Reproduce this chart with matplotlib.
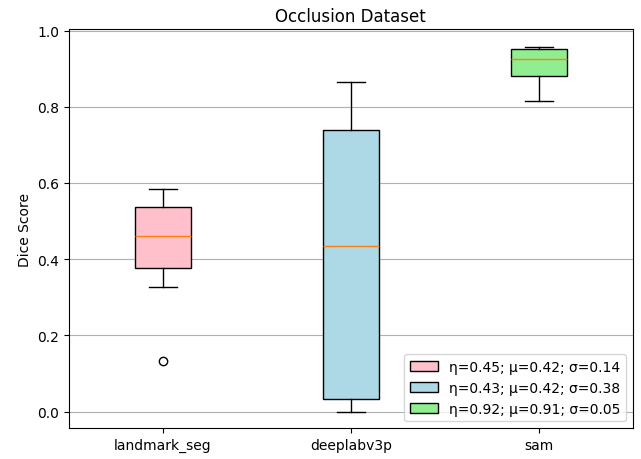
import matplotlib.pyplot as plt

# box statistics
models = ["landmark_seg", "deeplabv3p", "sam"]
med = [0.462, 0.435, 0.924]
q1 = [0.377, 0.033, 0.880]
q3 = [0.538, 0.738, 0.951]
whislo = [0.326, 0.0, 0.815]
whishi = [0.583, 0.866, 0.957]
fliers = [[0.132], [], []]
colors = ["pink", "lightblue", "lightgreen"]
labels = [
    "η=0.45; μ=0.42; σ=0.14",
    "η=0.43; μ=0.42; σ=0.38",
    "η=0.92; μ=0.91; σ=0.05",
]

stats = []
for i, name in enumerate(models):
    stats.append({
        "label": name, "med": med[i], "q1": q1[i], "q3": q3[i],
        "whislo": whislo[i], "whishi": whishi[i], "fliers": fliers[i],
    })

fig = plt.figure(figsize=(6.41, 4.6), dpi=100)
ax = fig.add_axes([0.1076, 0.0667, 0.8794, 0.8681])

bp = ax.bxp(stats, patch_artist=True, widths=0.3)
for box, c in zip(bp["boxes"], colors):
    box.set_facecolor(c)

ax.set_ylim(-0.044, 1.004)
ax.set_title("Occlusion Dataset")
ax.set_ylabel("Dice Score")
ax.yaxis.grid(True)
ax.legend(bp["boxes"], labels, loc="lower right")

plt.savefig("out.png")
